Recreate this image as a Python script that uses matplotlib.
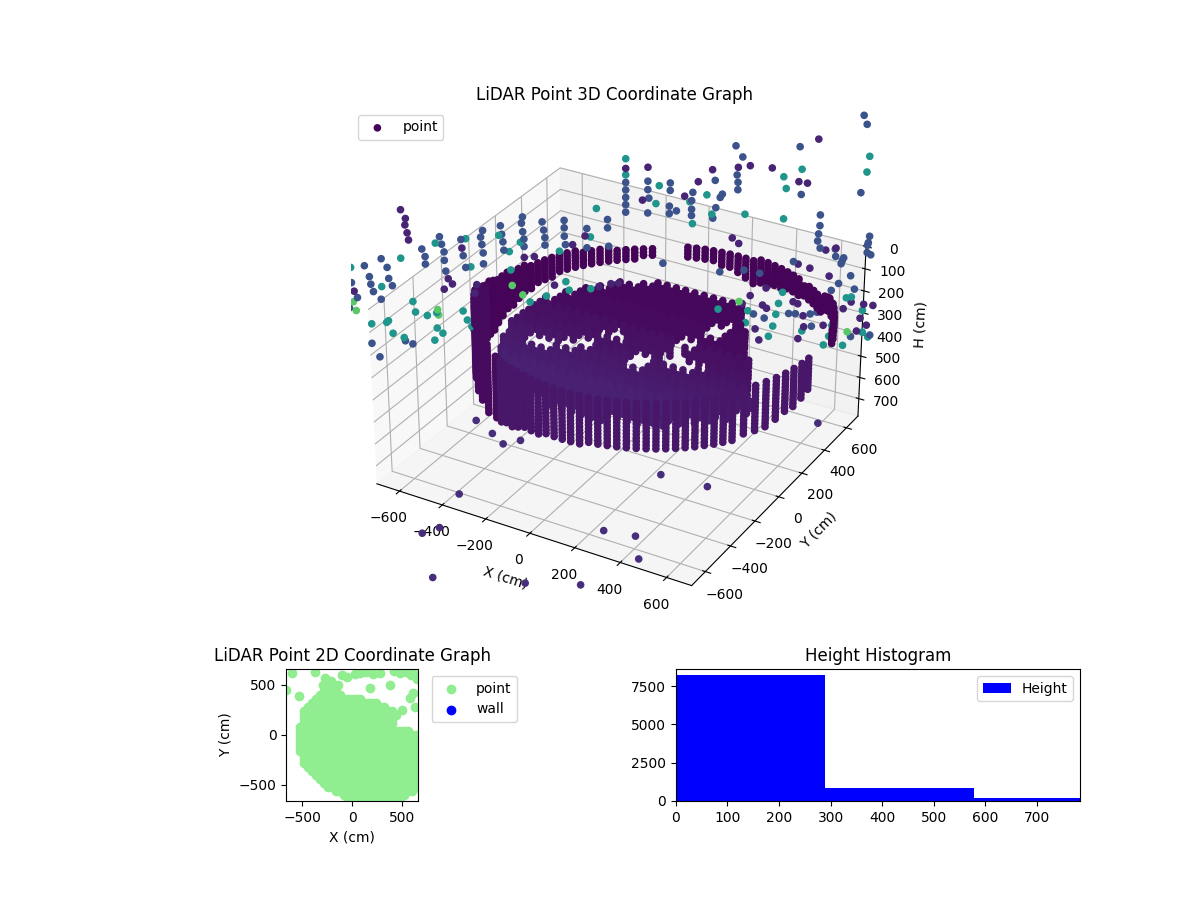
import matplotlib
matplotlib.use("Agg")
import matplotlib.pyplot as plt
from matplotlib.gridspec import GridSpec
import numpy as np

# ---- outlying returns, grouped by colour level (X, H); Y follows X
purple_x = [-607,-595,-597,-592,-589,-485,-474,-497,-445,-407,-413,-274,-246,-139,-104,10,-742,-191,-66,-32,-10,72,57,176,214,254,327,361,314,333,424,502,527,555,588,618,601,543,508,416,370,347,407,419,387,497,511,528,589,531,515,670,647,708,736,699,719,690,399]
purple_h = [-407,-368,-341,-307,-276,-90,-65,-47,-214,-49,-13,-141,-139,-170,-201,-468,-87,-4,27,21,23,-462,-325,-320,-375,-419,-416,-417,-113,-85,-396,-323,-312,-496,-7,-10,112,65,40,129,154,185,204,221,308,207,219,277,333,328,379,243,269,261,272,323,359,380,361]
low_x = [-420,-375,-345,-295,-475,-585,-535,-560,-290,-125,-55,40,50,255,115,585]
low_h = [555,625,680,675,885,1045,1030,1265,1360,1410,1160,1210,1325,1020,930,790]
blue_x = [-554,-546,-546,-505,-500,-494,-494,-491,-447,-442,-436,-393,-387,-390,-387,-387,-338,-335,-332,-330,-277,-280,-277,-274,-274,-223,-219,-216,-216,-162,-162,-162,-159,-99,-99,-41,-41,-38,10,10,10,10,10,-665,-650,-647,-638,-711,-699,-696,-690,-670,-748,-734,-757,-701,-681,-609,-589,-419,72,72,75,72,135,135,133,133,153,199,196,196,196,262,283,277,265,257,319,339,324,327,327,502,510,683,693,684,568,568,565,563,571,616,618,642,638,635,665,630,609,678,716,713,711,711,722,494,280,350,396,116,381,413,485,505,549,569,554,673,731]
blue_h = [-231,-197,-165,-274,-241,-207,-171,-124,-251,-181,-129,-251,-278,-219,-182,-135,-289,-252,-219,-183,-315,-289,-252,-220,-188,-284,-248,-215,-183,-279,-247,-211,-174,-232,-149,-260,-224,-144,-409,-377,-345,-314,-282,-211,-171,-123,-90,-190,-141,-108,-75,-38,-125,-58,-18,148,212,156,174,145,-403,-367,-330,-267,-384,-352,-285,-253,-261,-332,-297,-260,-233,-372,-309,-296,-254,-210,-509,-458,-384,-352,-320,-473,-266,-575,-535,-242,-166,-119,-83,-52,-19,-6,27,38,50,63,123,151,178,186,-44,-16,-5,28,40,26,30,36,59,-40,239,264,258,263,273,269,330,402,407]
teal_x = [-517,-434,-422,-343,-315,-284,-176,-89,-72,10,10,-667,-612,-748,-584,-578,-520,-546,-520,-505,-447,-436,-424,-653,-658,-642,-699,-612,-312,-260,-214,-159,-150,-89,-528,104,95,191,199,239,254,349,458,466,461,510,705,699,465,454,364,447,439,427,353,358,277,589,615,526,607,655,670,705,708,725,592,650]
teal_h = [-249,-252,-129,-249,-174,-208,-149,-194,-313,-509,-441,-92,-203,-190,-11,36,51,58,118,144,58,100,131,59,65,116,63,141,-94,56,39,-13,26,32,170,-378,-303,-293,-197,-314,-228,-210,-352,-300,-169,-375,-396,-329,158,206,221,254,306,350,318,274,196,242,339,346,387,221,220,288,389,415,424,438]
green_x = [-759,-746,-739,-517,-515,-309,-280,338,662]
green_h = [-193,-42,-3,38,62,-26,21,174,378]

# ---- wall returns: one vertical stack per position, top and bottom height
wall_x = [811,799,785,769,752,733,713,690,667,642,615,587,559,529,498,465,432,399,365,330,294,259,223,186,150,113,77,41,5,-30,-65,
          -198,-229,-259,-288,-316,-342,-367,-391,-413,-433,-453,-470,-486,-500,-511,-522,-531,-537,-541,-545,-546,-545,-541,-537,-531,-522,-511,-500,-486,-470,-453,-433,-413,-367,-316,-259,-198,
          -166,-133,-99,-65,-30,5,41,77,114,150,186,223,259,295,330,365,399,433,466,498,529,559,587,615,641,667,690,713,
          739,764,785,804,819,830,839,843]
wall_y = [204,239,272,305,337,368,398,427,455,482,506,530,552,572,592,609,625,639,651,661,670,676,681,684,685,684,681,676,670,661,651,
          592,572,552,530,506,482,455,427,398,368,337,305,272,239,204,169,134,98,62,26,-11,-47,-83,-120,-155,-190,-226,-260,-293,-326,-358,-389,-419,-476,-528,-574,-613,
          -630,-646,-660,-672,-682,-691,-697,-702,-705,-706,-705,-702,-697,-691,-682,-672,-660,-646,-630,-613,-594,-573,-551,-528,-502,-476,-448,-419,
          -379,-337,-293,-248,-202,-155,-107,-59]
wall_top = [104,100,85,83,81,88,95,105,117,135,154,160,163,165,167,165,165,165,165,165,165,165,170,170,170,175,175,180,180,180,180,
            190,190,190,185,185,180,180,175,170,165,160,155,155,155,155,155,150,145,140,135,130,125,115,105,95,80,65,50,35,25,20,25,40,60,80,90,100,
            105,105,105,105,105,105,105,105,105,105,100,100,100,100,100,100,100,100,100,100,100,100,100,100,100,100,100,100,
            90,90,90,90,90,85,85,85]
wall_bot = [170,165,150,150,150,158,165,178,190,208,225,230,235,235,235,240,240,245,255,265,270,280,285,280,260,250,240,225,225,225,225,
            235,235,240,240,245,245,250,250,250,250,250,250,255,260,265,270,280,290,300,310,320,335,345,350,355,360,365,370,375,375,375,375,370,380,385,390,385,
            378,370,362,350,342,335,330,325,322,320,315,315,312,310,310,305,305,305,302,300,300,300,300,300,300,300,300,300,
            295,290,285,275,265,255,240,225]
wall_level = [0.01]*31 + [0.01]*24 + [0.03]*13 + [0.06]*36
assert len(wall_x) == len(wall_y) == len(wall_top) == len(wall_bot) == len(wall_level)
layers = [0,15,30,45,60,75,90,105,120,135,150,165,180,195,210,225,240,255,270,285,300,315,330,345,360,375,390,405]

# ---- interior returns: rows of a lattice, each with its own height layers
disc_grid = [-516,-473,-430,-387,-344,-301,-258,-215,-172,-129,-86,-43,0,43,86,129,172,215,258,301,344,387,430,473,516,559,602,645,688,731]
disc_row_y = [516,473,430,387,344,301,258,215,172,129,86,43,0,-43,-86,-129,-172,-215,-258,-301,-344,-387,-430,-473,-516,-559,-602]
disc_row_lo = [-140,-207,-258,-300,-334,-363,-386,-406,-422,-433,-442,-447,-449,-448,-445,-438,-428,-414,-396,-376,-349,-318,-280,-234,-175,-98,37]
disc_row_hi = [269,293,318,343,368,392,417,442,466,491,516,540,565,590,614,639,664,688,696,675,648,617,580,534,475,398,262]
disc_row_h1 = [300,295,290,285,280,280,275,270,270,265,265,260,260,255,255,250,250,245,245,240,240,235,235,230,230,225,225]
disc_row_h2 = [315,310,305,300,295,295,290,285,285,280,280,275,275,270,270,265,265,260,260,255,255,250,250,245,245,240,240]
disc_row_h3 = [330,325,320,315,310,310,305,300,300,295,295,290,290,285,285,280,280,275,275,270,270,265,265,260,260,255,255]
disc_row_level = [0.02,0.02,0.02,0.02,0.02,0.02,0.03,0.03,0.03,0.03,0.04,0.04,0.04,0.05,0.05,0.06,0.06,0.07,0.07,0.08,0.08,0.09,0.09,0.09,0.09,0.09,0.09]
hole_x = [-262,-220,-110,-44,148,268,344,232,270,296]
hole_y = [-201,-184,-110,3,-129,-50,-47,89,250,317]
hole_r = [55,55,65,45,50,55,45,50,55,45]

# ---- footprint used by the 2D panel
floor_grid = [-600,-560,-520,-480,-440,-400,-360,-320,-280,-240,-200,-160,-120,-80,-40,0,40,80,120,160,200,240,280,320,360,400,440,480,520,560,600,640,680]
floor_row_y = [440,400,360,320,280,240,200,160,120,80,40,0,-40,-80,-120,-160,-200,-240,-280,-320,-360,-400,-440,-480,-520,-560,-600,-640]
floor_row_lo = [-280,-330,-380,-430,-460,-480,-490,-500,-510,-530,-540,-550,-550,-545,-535,-525,-510,-495,-480,-450,-420,-385,-345,-300,-245,-180,-110,-40]
floor_row_hi = [-130,-100,100,260,340,400,440,430,420,300,560,680,680,680,680,680,680,680,680,680,680,680,680,680,680,620,540,480]
extra_x = [-600,-370,-530,-270,-207,-140,-50,80,280,480,610,580,630,380,180,500,610,-660,-290,-240,-170,-100,30,140,210,420,540,590,650,-230,-180]
extra_y = [620,630,390,570,540,500,580,620,620,620,620,370,280,500,470,250,420,450,500,530,470,600,610,630,610,640,630,600,560,470,450]
wall2d_x = []
wall2d_y = []

# ---- histogram
hist_edges = [0,289,578,867]
hist_counts = [8200,870,217]

viridis_level = {"purple":0.10,"low":0.13,"blue":0.25,"teal":0.52,"green":0.74}

# assemble the 3D cloud
X, Y, H, L = [], [], [], []
for x, y, top, bot, lev in zip(wall_x, wall_y, wall_top, wall_bot, wall_level):
    for h in layers:
        if top <= h <= bot:
            X.append(x); Y.append(y); H.append(h); L.append(lev)
for y, lo, hi, h1, h2, h3, lev in zip(disc_row_y, disc_row_lo, disc_row_hi, disc_row_h1, disc_row_h2, disc_row_h3, disc_row_level):
    for x in disc_grid:
        in_hole = any((x-hx)**2 + (y-hy)**2 < hr**2 for hx, hy, hr in zip(hole_x, hole_y, hole_r))
        if lo <= x <= hi and not in_hole:
            for h in (h1, h2, h3):
                X.append(x); Y.append(y); H.append(h); L.append(lev)
for name, xs, hs in (("purple",purple_x,purple_h),("low",low_x,low_h),("blue",blue_x,blue_h),("teal",teal_x,teal_h),("green",green_x,green_h)):
    assert len(xs) == len(hs), name
    X += xs; Y += xs; H += hs; L += [viridis_level[name]]*len(xs)

FX, FY = list(extra_x), list(extra_y)
for y, lo, hi in zip(floor_row_y, floor_row_lo, floor_row_hi):
    for x in floor_grid:
        if lo <= x <= hi:
            FX.append(x); FY.append(y)

fig = plt.figure(figsize=(12, 9), dpi=100)
gs = GridSpec(2, 2, figure=fig, height_ratios=[4, 1], hspace=0.1, wspace=0.3)

ax3 = fig.add_subplot(gs[0, :], projection="3d")
ax3.scatter(X, Y, H, c=L, cmap="viridis", vmin=0, vmax=1, s=20, depthshade=False, label="point")
ax3.set_xlim(-707, 707); ax3.set_ylim(-707, 707); ax3.set_zlim(783, 0)
ax3.set_box_aspect((1414, 1414, 783))
ax3.set_xticks([-600,-400,-200,0,200,400,600])
ax3.set_yticks([-600,-400,-200,0,200,400,600])
ax3.set_zticks([0,100,200,300,400,500,600,700])
ax3.set_xlabel("X (cm)"); ax3.set_ylabel("Y (cm)"); ax3.set_zlabel("H (cm)")
ax3.set_title("LiDAR Point 3D Coordinate Graph")
ax3.legend(loc="upper left")

ax2 = fig.add_subplot(gs[1, 0])
ax2.scatter(FX, FY, c="lightgreen", s=36, label="point")
ax2.scatter(wall2d_x, wall2d_y, c="blue", s=36, label="wall")
ax2.set_xlim(-660, 660); ax2.set_ylim(-660, 660)
ax2.set_aspect("equal")
ax2.set_xlabel("X (cm)"); ax2.set_ylabel("Y (cm)")
ax2.set_title("LiDAR Point 2D Coordinate Graph")
ax2.legend(loc="upper left", bbox_to_anchor=(1.05, 1))

axh = fig.add_subplot(gs[1, 1])
axh.bar(hist_edges[:-1], hist_counts, width=np.diff(hist_edges), align="edge", color="blue", label="Height")
axh.set_xlim(0, 783)
axh.set_title("Height Histogram")
axh.legend(loc="upper right")

fig.savefig("out.png", dpi=100)
